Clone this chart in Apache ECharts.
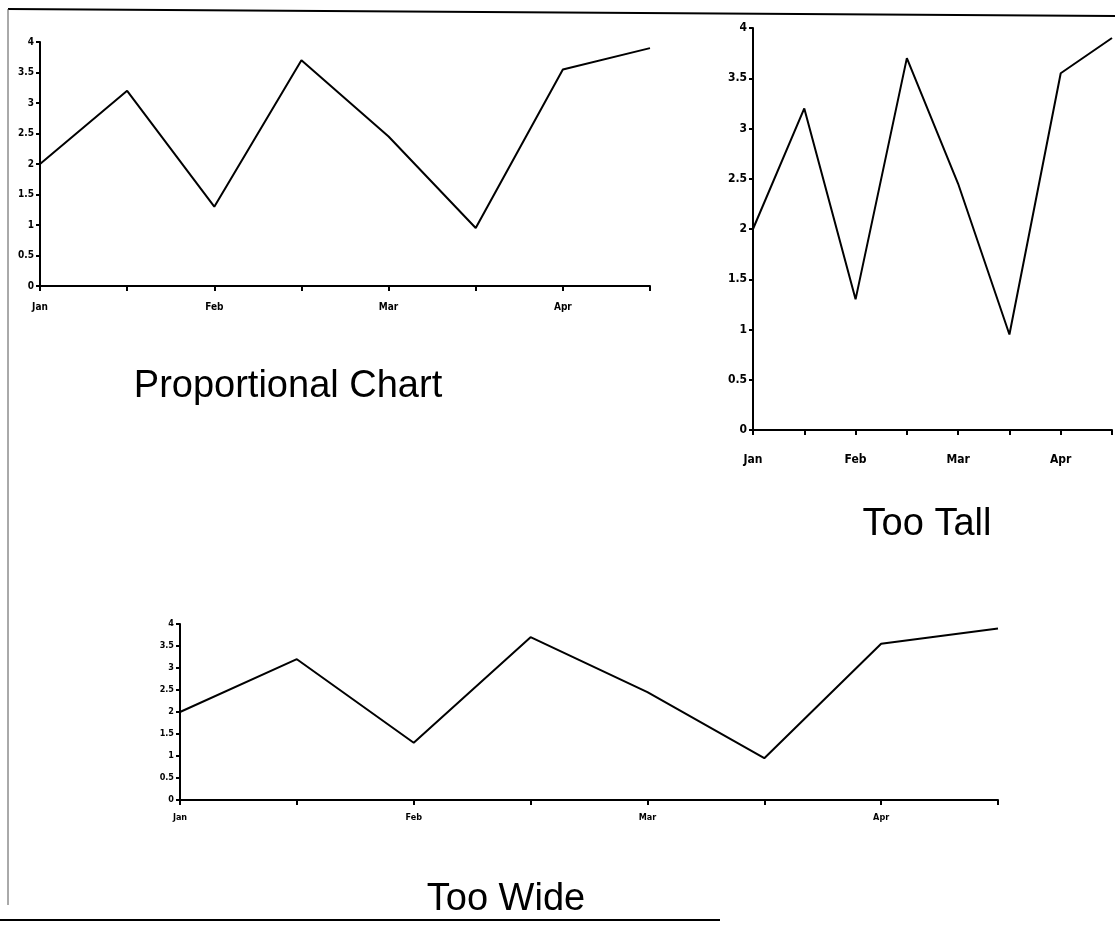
<!DOCTYPE html>
<html>
<head>
<meta charset="utf-8">
<script src="https://cdn.jsdelivr.net/npm/echarts@6/dist/echarts.min.js"></script>
<style>
  html, body { margin: 0; padding: 0; background: #fff; }
  #main { width: 1115px; height: 928px; }
</style>
</head>
<body>
<div id="main"></div>
<script>
// same series drawn three times with different aspect ratios
const categories = ['Jan', '', 'Feb', '', 'Mar', '', 'Apr', ''];
const values = [2.0, 3.2, 1.3, 3.7, 2.45, 0.95, 3.55, 3.9];
const titles = ['Proportional Chart', 'Too Tall', 'Too Wide'];

const chart = echarts.init(document.getElementById('main'), null, { renderer: 'canvas' });

const narrow = '"Liberation Sans Narrow", "DejaVu Sans Condensed", sans-serif';
const grids = [
    { left: 40, top: 42, width: 610, height: 244 },
    { left: 753, top: 28, width: 370, height: 402 },
    { left: 180, top: 624, width: 818, height: 176 }
];
const labelSize = [10, 12, 9];
const labelMargin = [16, 24, 13];

const axisLine = { lineStyle: { color: '#000', width: 2 } };

const xAxis = grids.map((g, i) => ({
    type: 'category',
    gridIndex: i,
    data: categories,
    boundaryGap: false,
    axisLine: axisLine,
    axisTick: { show: true, length: 5, interval: 0, lineStyle: { color: '#000', width: 2 } },
    axisLabel: {
        interval: 0,
        margin: labelMargin[i],
        color: '#000',
        fontWeight: 'bold',
        fontSize: labelSize[i],
        fontFamily: narrow
    },
    splitLine: { show: false }
}));

const yAxis = grids.map((g, i) => ({
    type: 'value',
    gridIndex: i,
    min: 0,
    max: 4,
    interval: 0.5,
    axisLine: { show: true, lineStyle: { color: '#000', width: 2 } },
    axisTick: { show: true, length: 4, lineStyle: { color: '#000', width: 2 } },
    axisLabel: {
        margin: 6,
        color: '#000',
        fontWeight: 'bold',
        fontSize: labelSize[i],
        fontFamily: narrow
    },
    splitLine: { show: false }
}));

const series = grids.map((g, i) => ({
    type: 'line',
    xAxisIndex: i,
    yAxisIndex: i,
    data: values,
    symbol: 'none',
    lineStyle: { color: '#000', width: 2 }
}));

const titleFont = '38px "Liberation Sans", Arial, sans-serif';
const titlePos = [[288, 387], [927, 525], [506, 900]];

chart.setOption({
    animation: false,
    backgroundColor: '#fff',
    grid: grids,
    xAxis: xAxis,
    yAxis: yAxis,
    series: series,
    graphic: [
        ...titles.map((t, i) => ({
            type: 'text',
            x: titlePos[i][0],
            y: titlePos[i][1],
            style: { text: t, font: titleFont, fill: '#000', textAlign: 'center', textVerticalAlign: 'middle' }
        })),
        // scanned page frame
        { type: 'line', shape: { x1: 8, y1: 9, x2: 1115, y2: 16 }, style: { stroke: '#000', lineWidth: 2 } },
        { type: 'line', shape: { x1: 8, y1: 9, x2: 8, y2: 905 }, style: { stroke: '#555', lineWidth: 1 } },
        { type: 'line', shape: { x1: 0, y1: 920, x2: 720, y2: 920 }, style: { stroke: '#000', lineWidth: 2 } }
    ]
});
</script>
</body>
</html>
